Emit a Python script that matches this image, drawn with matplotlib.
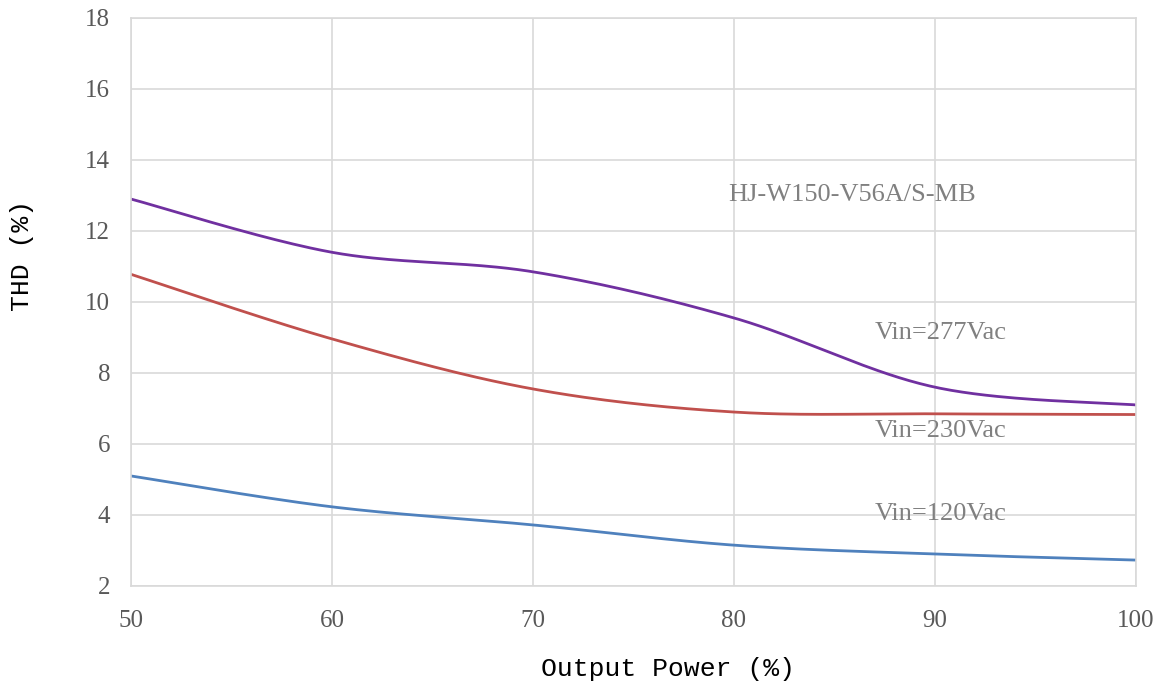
import numpy as np
import matplotlib.pyplot as plt

# output power (%) and THD (%) per input voltage
power = [50, 60, 70, 80, 90, 100]
thd_277 = [12.9, 11.4, 10.85, 9.55, 7.6, 7.1]
thd_230 = [10.78, 8.96, 7.55, 6.9, 6.85, 6.83]
thd_120 = [5.1, 4.23, 3.72, 3.15, 2.9, 2.73]


def smooth(x, y, n=40):
    # Catmull-Rom style bezier, like the spreadsheet "smoothed line"
    x = np.asarray(x, float)
    y = np.asarray(y, float)
    px = np.concatenate([[x[0]], x, [x[-1]]])
    py = np.concatenate([[y[0]], y, [y[-1]]])
    xs, ys = [], []
    t = np.linspace(0, 1, n)
    for i in range(1, len(px) - 2):
        p0 = np.array([px[i], py[i]])
        p3 = np.array([px[i + 1], py[i + 1]])
        c1 = p0 + (np.array([px[i + 1], py[i + 1]]) - np.array([px[i - 1], py[i - 1]])) / 6
        c2 = p3 - (np.array([px[i + 2], py[i + 2]]) - np.array([px[i], py[i]])) / 6
        b = ((1 - t) ** 3)[:, None] * p0 + (3 * (1 - t) ** 2 * t)[:, None] * c1 \
            + (3 * (1 - t) * t ** 2)[:, None] * c2 + (t ** 3)[:, None] * p3
        xs.extend(b[:, 0])
        ys.extend(b[:, 1])
    return xs, ys


fig = plt.figure(figsize=(11.63, 6.89), dpi=100)
ax = fig.add_axes([0.1126, 0.1495, 0.8642, 0.8244])

for y, c in [(thd_120, "#4F81BD"), (thd_230, "#C0504D"), (thd_277, "#7030A0")]:
    sx, sy = smooth(power, y)
    ax.plot(sx, sy, color=c, lw=2.0, solid_capstyle="butt")

ax.set_xlim(50, 100)
ax.set_ylim(2, 18)
ax.set_xticks(range(50, 101, 10))
ax.set_yticks(range(2, 19, 2))
ax.grid(True, color="#D9D9D9", lw=1.2)
ax.set_axisbelow(True)
for s in ax.spines.values():
    s.set_color("#D9D9D9")
    s.set_linewidth(1.2)
ax.tick_params(length=0, labelsize=18, labelcolor="#595959")
ax.tick_params(axis="x", pad=17)
ax.tick_params(axis="y", pad=15)
for lab in ax.get_xticklabels() + ax.get_yticklabels():
    lab.set_family("Liberation Serif")

txt = dict(family="Liberation Serif", fontsize=19, color="#808080", va="center")
ax.text(79.7, 13.0, "HJ-W150-V56A/S-MB", **txt)
ax.text(87.0, 9.13, "Vin=277Vac", **txt)
ax.text(87.0, 6.37, "Vin=230Vac", **txt)
ax.text(87.0, 4.03, "Vin=120Vac", **txt)

fig.text(668 / 1163, 1 - 669 / 689, "Output Power (%)", family="Liberation Mono",
         fontsize=19, ha="center", va="center")
fig.text(22 / 1163, 1 - 255 / 689, "THD (%)", family="Liberation Mono",
         fontsize=19, rotation=90, ha="center", va="center")

fig.savefig("out.png", dpi=100)
